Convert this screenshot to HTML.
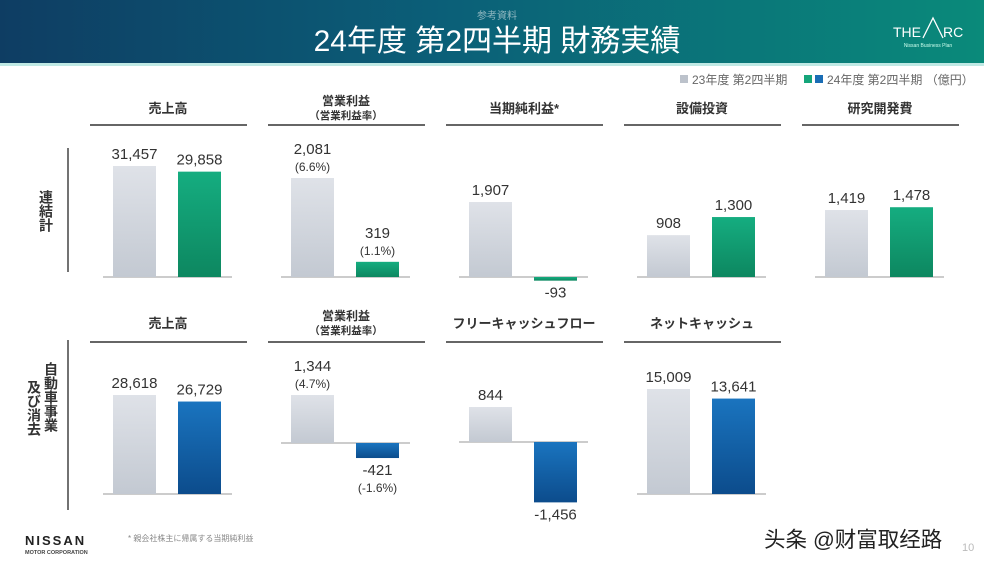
<!DOCTYPE html>
<html><head><meta charset="utf-8"><style>
body{margin:0;width:984px;height:564px;overflow:hidden;background:#fff;font-family:"Liberation Sans","Noto Sans CJK JP",sans-serif}
svg{display:block}
</style></head><body>
<svg id="c" width="984" height="564" viewBox="0 0 984 564" xmlns="http://www.w3.org/2000/svg">
<defs>
<linearGradient id="hdr" x1="0" x2="1" y1="0" y2="0"><stop offset="0" stop-color="#0e3d63"/><stop offset="0.45" stop-color="#0b5f78"/><stop offset="1" stop-color="#0a8a7a"/></linearGradient>
<linearGradient id="gGray" x1="0" x2="0" y1="0" y2="1"><stop offset="0" stop-color="#dfe2e8"/><stop offset="1" stop-color="#c3c9d2"/></linearGradient>
<linearGradient id="gGreen" x1="0" x2="0" y1="0" y2="1"><stop offset="0" stop-color="#15ad80"/><stop offset="1" stop-color="#0d8760"/></linearGradient>
<linearGradient id="gBlue" x1="0" x2="0" y1="0" y2="1"><stop offset="0" stop-color="#1a74bf"/><stop offset="1" stop-color="#0c4c8c"/></linearGradient>
</defs>
<rect x="0" y="0" width="984" height="63" fill="url(#hdr)"/>
<rect x="0" y="63" width="984" height="3" fill="#bfe9e4"/>
<text x="497" y="19" text-anchor="middle" font-size="10" fill="#8fb7c0">参考資料</text>
<text x="497" y="51" text-anchor="middle" font-size="30" fill="#ffffff">24年度 第2四半期 財務実績</text>
<g>
<text x="893" y="37" font-size="14" fill="#ffffff">THE</text>
<path d="M923 38 L933 18 L943 38" stroke="#fff" stroke-width="1.3" fill="none"/>
<text x="943" y="37" font-size="14" fill="#ffffff">RC</text>
<text x="928" y="47" text-anchor="middle" font-size="5" fill="#cfe">Nissan Business Plan</text>
</g>
<g font-size="12" fill="#666">
<rect x="680" y="75" width="8" height="8" fill="#bcc2cb"/>
<text x="692" y="84">23年度 第2四半期</text>
<rect x="804" y="75" width="8" height="8" fill="#15a57a"/>
<rect x="815" y="75" width="8" height="8" fill="#1a6db5"/>
<text x="827" y="84">24年度 第2四半期 （億円）</text>
</g>
<text x="0" y="0" transform="translate(46,190)" font-size="14" font-weight="bold" fill="#333" writing-mode="tb">連結計</text>
<line x1="68" y1="148" x2="68" y2="272" stroke="#444" stroke-width="1.5"/>
<text transform="translate(51,362)" font-size="14" font-weight="bold" fill="#333" writing-mode="tb">自動車事業</text>
<text transform="translate(34,380)" font-size="14" font-weight="bold" fill="#333" writing-mode="tb">及び消去</text>
<line x1="68" y1="340" x2="68" y2="510" stroke="#444" stroke-width="1.5"/>
<g id="charts"></g>
<g>
<text x="25" y="545" font-size="13" font-weight="bold" letter-spacing="2" fill="#222">NISSAN</text>
<text x="25" y="554" font-size="5.5" font-weight="bold" fill="#444">MOTOR CORPORATION</text>
</g>
<text x="128" y="541" font-size="8" fill="#888">* 親会社株主に帰属する当期純利益</text>
<text x="764" y="547" font-size="21.5" fill="#222">头条 @财富取经路</text>
<text x="962" y="551" font-size="11" fill="#bbb">10</text>
</svg>
<script>
const row1Categories = ["売上高", "営業利益|（営業利益率）", "当期純利益*", "設備投資", "研究開発費"];
const row1Prev = [31457, 2081, 1907, 908, 1419];
const row1Curr = [29858, 319, -93, 1300, 1478];
const row1PrevPct = ["", "(6.6%)", "", "", ""];
const row1CurrPct = ["", "(1.1%)", "", "", ""];
const row2Categories = ["売上高", "営業利益|（営業利益率）", "フリーキャッシュフロー", "ネットキャッシュ"];
const row2Prev = [28618, 1344, 844, 15009];
const row2Curr = [26729, -421, -1456, 13641];
const row2PrevPct = ["", "(4.7%)", "", ""];
const row2CurrPct = ["", "(-1.6%)", "", ""];
// per-panel axis domain max (units mapped to plot height)
const row1Domain = [31457, 2081, 1907, 2060, 1419];
const row2Domain = [28618, 1344, 844, 15009];

const NS = "http://www.w3.org/2000/svg";
const g = document.getElementById("charts");
function el(tag, attrs, parent) {
  const e = document.createElementNS(NS, tag);
  for (const k in attrs) e.setAttribute(k, attrs[k]);
  (parent || g).appendChild(e);
  return e;
}
const fmt = v => (v < 0 ? "-" : "") + Math.abs(v).toLocaleString("en-US");
const panelX = [90, 268, 446, 624, 802];
function drawRow(cats, prev, curr, prevPct, currPct, domain, opt) {
  cats.forEach((cat, i) => {
    const px = panelX[i];
    const grp = el("g", {});
    
    
    const parts = cat.split("|");
    const cx = px + 78;
    if (parts.length === 1) {
      const t = el("text", {x: cx, y: opt.titleY, "text-anchor": "middle", "font-size": 13, "font-weight": "bold", fill: "#333"}, grp);
      t.textContent = parts[0];
      
      
    } else {
      const t1 = el("text", {x: cx, y: opt.titleY - 8, "text-anchor": "middle", "font-size": 12, "font-weight": "bold", fill: "#333"}, grp);
      t1.textContent = parts[0];
      
      
      const t2 = el("text", {x: cx, y: opt.titleY + 6, "text-anchor": "middle", "font-size": 10.5, "font-weight": "bold", fill: "#333"}, grp);
      t2.textContent = parts[1];
      
      
    }
    const ul = el("line", {x1: px, x2: px + 157, y1: opt.ruleY, y2: opt.ruleY, stroke: "#666", "stroke-width": 2}, grp);
    
    
    const base = opt.base[i];
    const scale = opt.plotH[i] / domain[i];
    const y = v => base - v * scale;
    const vals = [prev[i], curr[i]];
    const pcts = [prevPct[i], currPct[i]];
    const xs = [px + 23, px + 88];
    const bl = el("line", {x1: px + 13, x2: px + 142, y1: base, y2: base, stroke: "#bbb", "stroke-width": 1.5}, grp);
    
    
    vals.forEach((v, j) => {
      const top = Math.min(y(v), base), h = Math.max(Math.abs(y(v) - base), 1);
      const r = el("rect", {x: xs[j], y: top, width: 43, height: h, fill: j === 0 ? "url(#gGray)" : opt.fill}, grp);
      
      
      const lx = xs[j] + 21.5;
      let ly;
      if (v >= 0) ly = y(v) - (pcts[j] ? 24 : 7);
      else ly = y(v) + 17;
      const t = el("text", {x: lx, y: ly, "text-anchor": "middle", "font-size": 15, fill: "#333"}, grp);
      t.textContent = fmt(v);
      
      
      if (pcts[j]) {
        const p = el("text", {x: lx, y: ly + 17, "text-anchor": "middle", "font-size": 12, fill: "#333"}, grp);
        p.textContent = pcts[j];
        
        
      }
    });
  });
}
drawRow(row1Categories, row1Prev, row1Curr, row1PrevPct, row1CurrPct, row1Domain,
  {row: "consolidated", titleY: 113, ruleY: 125, fill: "url(#gGreen)", base: [277,277,277,277,277], plotH: [111,99,75,95,67]});
drawRow(row2Categories, row2Prev, row2Curr, row2PrevPct, row2CurrPct, row2Domain,
  {row: "automotive", titleY: 328, ruleY: 342, fill: "url(#gBlue)", base: [494,443,442,494], plotH: [99,48,35,105]});
</script>
</body></html>
